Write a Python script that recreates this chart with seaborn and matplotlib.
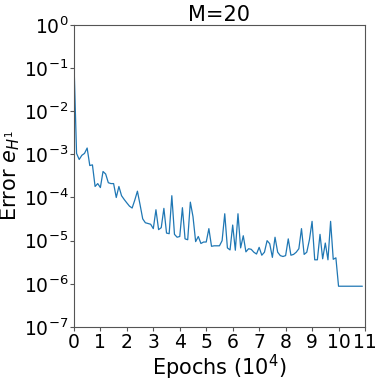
import numpy as np
import pandas as pd
import matplotlib
matplotlib.use("Agg")
import matplotlib.pyplot as plt
import seaborn as sns

# ---- data (epochs in units of 1e4) ----
epochs = [round(0.1 * i, 1) for i in range(110)]
error_h1 = [
    1.5e-1, 1.05e-3, 7.6e-4, 9.5e-4, 1.05e-3, 1.4e-3, 5.5e-4, 5.7e-4, 1.8e-4, 2.1e-4,
    1.7e-4, 4.0e-4, 3.5e-4, 2.2e-4, 2.1e-4, 2.1e-4, 1.0e-4, 1.8e-4, 1.1e-4, 9.0e-5,
    7.5e-5, 6.3e-5, 5.7e-5, 8.7e-5, 1.4e-4, 6.8e-5, 3.2e-5, 2.6e-5, 2.5e-5, 2.4e-5,
    1.9e-5, 5.2e-5, 1.8e-5, 2.0e-5, 5.6e-5, 1.5e-5, 1.45e-5, 1.1e-4, 1.4e-5, 1.2e-5,
    1.25e-5, 5.8e-5, 1.1e-5, 1.05e-5, 7.8e-5, 3.6e-5, 9.5e-6, 1.25e-5, 8.6e-6, 9.3e-6,
    9.3e-6, 1.9e-5, 7.4e-6, 7.6e-6, 7.6e-6, 7.6e-6, 1.0e-5, 4.2e-5, 6.8e-6, 6.1e-6,
    2.3e-5, 6.0e-6, 4.2e-5, 6.8e-6, 1.3e-5, 5.5e-6, 6.5e-6, 6.3e-6, 5.4e-6, 4.9e-6,
    7.0e-6, 4.6e-6, 5.4e-6, 1.0e-5, 8.5e-6, 4.1e-6, 1.2e-5, 5.4e-6, 4.5e-6, 4.3e-6,
    4.5e-6, 1.1e-5, 4.6e-6, 4.8e-6, 5.4e-6, 6.5e-6, 1.9e-5, 4.8e-6, 5.4e-6, 1.05e-5,
    2.8e-5, 3.6e-6, 3.6e-6, 1.4e-5, 3.8e-6, 8.8e-6, 3.6e-6, 2.8e-5, 3.7e-6, 4.0e-6,
    8.8e-7, 8.8e-7, 8.8e-7, 8.8e-7, 8.8e-7, 8.8e-7, 8.8e-7, 8.8e-7, 8.8e-7, 8.8e-7,
]
x_ticks = list(range(12))
y_ticks = [1e-7, 1e-6, 1e-5, 1e-4, 1e-3, 1e-2, 1e-1, 1e0]

df = pd.DataFrame({"epoch": epochs, "error": error_h1})

sns.set_style("white")
plt.rcParams["font.family"] = ["DejaVu Sans"]
plt.rcParams["text.color"] = "black"
plt.rcParams["axes.labelcolor"] = "black"
plt.rcParams["xtick.color"] = "black"
plt.rcParams["ytick.color"] = "black"

fig = plt.figure(figsize=(3.81, 3.82), dpi=100)
ax = fig.add_axes([0.194, 0.144, 0.764, 0.791])

sns.lineplot(data=df, x="epoch", y="error", ax=ax, color="#1f77b4", linewidth=0.9)

ax.set_yscale("log")
ax.set_xlim(0, 11)
ax.set_ylim(1e-7, 1e0)
ax.set_xticks(x_ticks)
ax.set_yticks(y_ticks)
ax.yaxis.set_minor_locator(matplotlib.ticker.NullLocator())
ax.tick_params(axis="both", which="major", labelsize=13.5, length=3, width=0.8,
               color="#555555", labelcolor="black", pad=1, left=True, bottom=True)

for s in ax.spines.values():
    s.set_color("#555555")
    s.set_linewidth(0.8)

ax.set_xlabel("Epochs ($10^4$)", fontsize=15, labelpad=1, color="black")
ax.set_ylabel("Error $e_{H^1}$", fontsize=15, labelpad=1, color="black")
ax.set_title("M=20", fontsize=15, pad=3, color="black")

fig.savefig("out.png", dpi=100)
plt.close(fig)
